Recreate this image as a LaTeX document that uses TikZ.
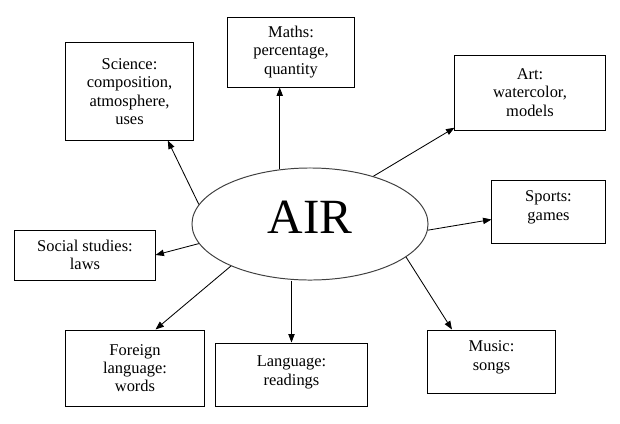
\documentclass[tikz,border=0pt]{standalone}
\usepackage{fontspec}
\setmainfont{Liberation Serif}
\newfontfamily\subjfont{Liberation Serif}
\usetikzlibrary{shapes.geometric, arrows.meta, positioning, calc}

\begin{document}
\begin{tikzpicture}[
        x=0.025cm, y=-0.025cm,
        box/.style={draw, line width=0.7pt, align=center, inner sep=2pt, font=\subjfont\fontsize{11.7}{13}\selectfont},
        hub/.style={draw=black!75, ellipse, line width=0.7pt, inner sep=0pt, minimum width=5.9cm, minimum height=2.8cm, font=\subjfont\fontsize{35}{40}\selectfont},
        arrow/.style={-{Triangle[length=6pt, width=4.5pt]}, line width=0.6pt}
    ]
        \useasboundingbox (0,0) rectangle (620,423);

        % Centre: the topic
        \node[hub, text depth=0.35cm] (air) at (310,224) {AIR};

        % Top row of subjects
        \node[box, minimum width=3.175cm, minimum height=2.425cm] (science) at (129.5,91.5) {Science:\\composition,\\atmosphere,\\uses};
        \node[box, minimum width=3.15cm, minimum height=1.75cm] (maths) at (291,52) {Maths:\\percentage,\\quantity};
        \node[box, minimum width=3.75cm, minimum height=1.875cm] (art) at (530,92.5) {Art:\\watercolor,\\models};

        % Sides
        \node[box, minimum width=3.5cm, minimum height=1.25cm] (social) at (85,255) {Social studies:\\laws};
        \node[box, minimum width=2.825cm, minimum height=1.575cm, text depth=0.3cm] (sports) at (548.5,211.5) {Sports:\\games};

        % Bottom row
        \node[box, minimum width=3.45cm, minimum height=1.9cm] (foreign) at (135,368) {Foreign\\language:\\words};
        \node[box, minimum width=3.775cm, minimum height=1.575cm, text depth=0.2cm] (language) at (291.5,374.5) {Language:\\readings};
        \node[box, minimum width=3.175cm, minimum height=1.575cm, text depth=0.3cm] (music) at (491.5,361.5) {Music:\\songs};

        % Arrows out of the ellipse
        \draw[arrow] (air.170) -- (science.308);
        \draw[arrow] (air.119) -- (air.119 |- maths.south);
        \draw[arrow] (air.37) -- (art.205);
        \draw[arrow] (air.-3) -- (sports.188);
        \draw[arrow] (air.-19) -- (music.141);
        \draw[arrow] (language.north |- air.south) -- (language.north);
        \draw[arrow] (air.208) -- (foreign.62);
        \draw[arrow] (air.190) -- (social.east);
    \end{tikzpicture}
\end{document}
